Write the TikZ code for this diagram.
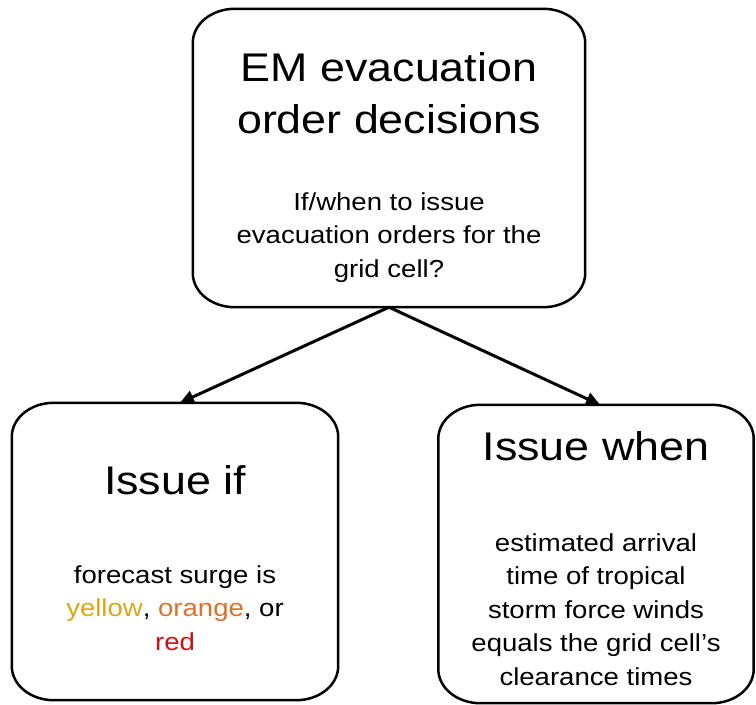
\documentclass[tikz,border=0pt]{standalone}
\usepackage{fontspec}
\setmainfont[FakeStretch=1.12]{Liberation Sans}
\usetikzlibrary{arrows.meta}
\definecolor{surgeyellow}{HTML}{D9A816}
\definecolor{surgeorange}{HTML}{D9732B}
\definecolor{surgered}{HTML}{CC1414}
% border of a node with elliptical corners
\newcommand\ellborder[1]{%
  \draw[boxline] ([xshift=42pt]#1.north west) -- ([xshift=-42pt]#1.north east)
    arc[start angle=90,end angle=0,x radius=42pt,y radius=34pt]
    -- ([yshift=34pt]#1.south east)
    arc[start angle=0,end angle=-90,x radius=42pt,y radius=34pt]
    -- ([xshift=42pt]#1.south west)
    arc[start angle=270,end angle=180,x radius=42pt,y radius=34pt]
    -- ([yshift=-34pt]#1.north west)
    arc[start angle=180,end angle=90,x radius=42pt,y radius=34pt] -- cycle;}
\begin{document}
\begin{tikzpicture}[x=1pt,y=1pt,
  boxarea/.style={rectangle,draw=none,inner sep=0pt,minimum width=#1},
  boxline/.style={line width=2.5pt,black},
  bigtext/.style={anchor=base,align=center,inner sep=0pt,font=\fontsize{40}{52}\selectfont},
  smalltext/.style={anchor=base,align=center,inner sep=0pt,font=\fontsize{24.6}{33.5}\selectfont},
  arr/.style={line width=3pt,-{Triangle[length=14pt,width=13pt]}}]
\useasboundingbox (0,0) rectangle (756,-705);
% decision boxes
\node[boxarea=392pt,minimum height=298pt] (top) at (389,-158) {};
\node[boxarea=326pt,minimum height=297pt] (left) at (175,-551.5) {};
\node[boxarea=315pt,minimum height=298pt] (right) at (596,-554) {};
\ellborder{top}
\ellborder{left}
\ellborder{right}
% texts (each anchored at the baseline of its last line)
\node[bigtext] (toptitle) at (389,-133) {EM evacuation\\order decisions};
\node[smalltext] (topsub) at (389,-277) {If/when to issue\\evacuation orders for the\\grid cell?};
\node[bigtext] (lefttitle) at (175,-494) {Issue if};
\node[smalltext] (leftsub) at (175,-650) {forecast surge is\\\textcolor{surgeyellow}{yellow}, \textcolor{surgeorange}{orange}, or\\\textcolor{surgered}{red}};
\node[bigtext] (righttitle) at (596,-460) {Issue when};
\node[smalltext] (rightsub) at (596,-685) {estimated arrival\\time of tropical\\storm force winds\\equals the grid cell’s\\clearance times};
% connectors
\draw[arr] (top.south) -- ([xshift=5pt]left.north);
\draw[arr] (top.south) -- ([xshift=4pt]right.north);
\end{tikzpicture}
\end{document}
